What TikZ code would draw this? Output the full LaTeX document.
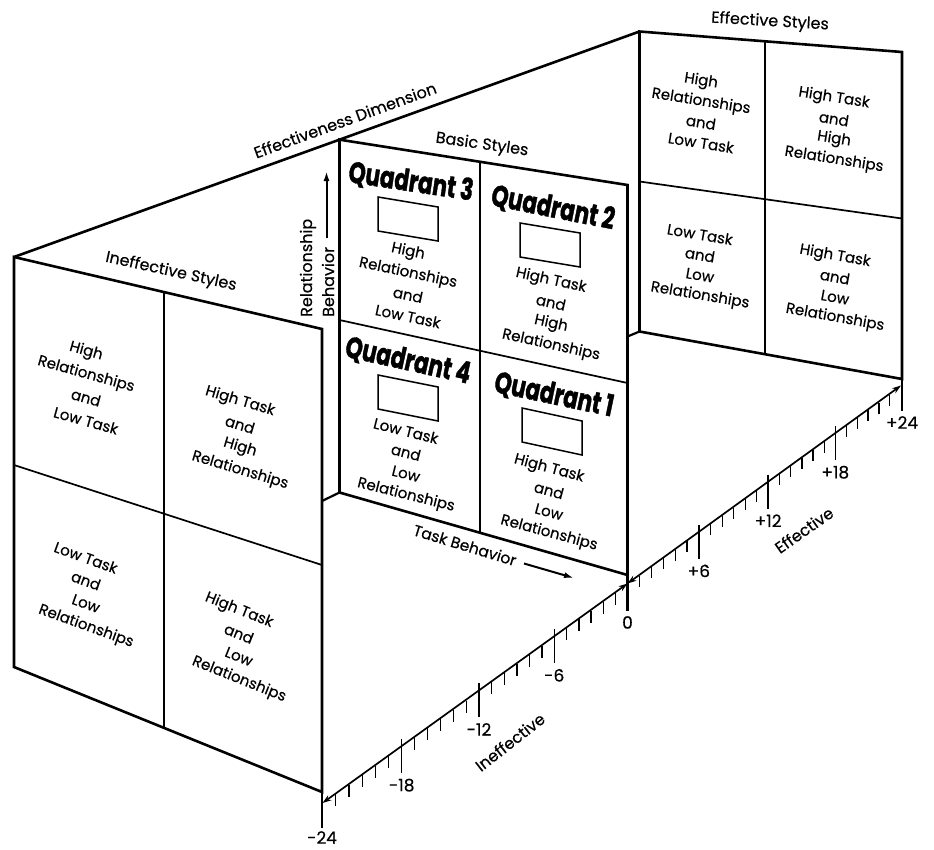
\documentclass[tikz,border=0pt]{standalone}
\usepackage{fontspec}
\setmainfont{Poppins}[FakeBold=0.4]
\newfontfamily\quadfont[FakeStretch=0.72,FakeBold=1.2]{Poppins}
\usetikzlibrary{arrows.meta,calc}

\begin{document}
\begin{tikzpicture}[
    x=1pt, y=-1pt,
    panelline/.style={line width=2.6pt, line join=miter},
    divider/.style={line width=1.7pt},
    floorline/.style={line width=2.2pt},
    scorebox/.style={line width=1.5pt, line join=miter},
    celltext/.style={inner sep=0pt, font=\fontsize{15}{22}\selectfont},
    heading/.style={inner sep=0pt, font=\fontsize{16}{18}\selectfont},
    quadlabel/.style={inner sep=0pt, font=\quadfont\bfseries\fontsize{30}{32}\selectfont},
    axisarrow/.style={{Stealth[length=9pt,width=6pt]}-{Stealth[length=9pt,width=6pt]}, line width=1.7pt},
    behaviorarrow/.style={-{Latex[length=10pt,width=6pt]}, line width=2pt},
    majortick/.style={line width=1.5pt},
    minortick/.style={line width=1.3pt},
    ticklabel/.style={inner sep=0pt, font=\fontsize{17}{19}\selectfont}
  ]
  \useasboundingbox (0,0) rectangle (934,849);

  \coordinate (fTL) at (14,257);
  \coordinate (fTR) at (322,329);
  \coordinate (fBR) at (322,792);
  \coordinate (fBL) at (14,667);
  \coordinate (fML) at (14,465);
  \coordinate (fMR) at (322,565);
  \coordinate (fdrop) at (322,828);
  \coordinate (fjoin) at (322,501);

  \coordinate (kTL) at (639.5,31.5);
  \coordinate (kTR) at (902,52);
  \coordinate (kBR) at (902,379);
  \coordinate (kBL) at (639.5,331.5);
  \coordinate (kML) at (639.5,181.5);
  \coordinate (kMR) at (902,218.5);
  \coordinate (kdrop) at (902,411);

  \coordinate (bTL) at ($(fTL)!0.5204!(kTL)$);
  \coordinate (bTR) at (627.5,185);
  \coordinate (bBR) at (627.5,575);
  \coordinate (bBL) at (339.5,492.5);
  \coordinate (bML) at (339.5,320);
  \coordinate (bMR) at (627.5,383);
  \coordinate (bdrop) at (627.5,611);
  \coordinate (bjoin) at (627.5,336.5);

  \coordinate (zero) at (627.5,583.5);
  \coordinate (effend) at (901,385.5);
  \coordinate (ineffend) at (322.5,803);

  \draw[panelline] (fTL) -- (kTL);

  \draw[panelline] (fTL) -- (fTR) -- (fBR) -- (fBL) -- cycle;
  \draw[panelline] (fBR) -- (fdrop);
  \draw[divider] (fML) -- (fMR);
  \draw[divider] ($(fTL)!0.487!(fTR)$) -- ($(fBL)!0.487!(fBR)$);

  \draw[panelline] (bTL) -- (bTR) -- (bBR) -- (bBL) -- cycle;
  \draw[panelline] (bBR) -- (bdrop);
  \draw[divider] (bML) -- (bMR);
  \draw[divider] ($(bTL)!0.488!(bTR)$) -- ($(bBL)!0.488!(bBR)$);

  \draw[panelline] (kTL) -- (kTR) -- (kBR) -- (kBL) -- cycle;
  \draw[panelline] (kBR) -- (kdrop);
  \draw[divider] (kML) -- (kMR);
  \draw[divider] ($(kTL)!0.478!(kTR)$) -- ($(kBL)!0.478!(kBR)$);

  \draw[floorline] (fjoin) -- (bBL);
  \draw[floorline] (kBL) -- (bjoin);

  \foreach \corner/\rise in {{378,197}/10, {520,223}/10, {378,375}/12, {522,408}/13}
    \draw[scorebox] (\corner) -- ++(60,\rise) -- ++(0,34) -- ++(-60,-\rise) -- cycle;

  \draw[axisarrow] (ineffend) -- (zero);
  \draw[axisarrow] (zero) -- (effend);

  \foreach \t in {1,...,23} {
    \pgfmathsetmacro\fpos{0.044125*\t-0.00010245*\t*\t}
    \pgfmathsetmacro\fneg{0.039467*\t+0.00009163*\t*\t}
    \coordinate (e) at ($(zero)!\fpos!(effend)$);
    \coordinate (i) at ($(zero)!\fneg!(ineffend)$);
    \pgfmathtruncatemacro\major{mod(\t,6)==0}
    \ifnum\major=1
      \draw[majortick] (e) ++(0,-7) -- ++(0,34) node[ticklabel, below=5pt] {+\t};
      \draw[majortick] (i) ++(0,-7) -- ++(0,34) node[ticklabel, below=5pt] {-\t};
    \else
      \draw[minortick] (e) ++(0,1) -- ++(0,11);
      \draw[minortick] (i) ++(0,1) -- ++(0,12);
    \fi
  }

  \node[ticklabel, below=5pt] (lzero) at (bdrop) {0};
  \node[ticklabel, below=5pt] (lpos) at (kdrop) {+24};
  \node[ticklabel, below=3pt] (lneg) at (fdrop) {-24};

  \node[heading, rotate=35] (efflabel) at (804,530) {Effective};
  \node[heading, rotate=38] (inefflabel) at (510,742) {Ineffective};

  \node[heading, rotate=20] (effdim) at (345,120) {Effectiveness Dimension};
  \node[heading, rotate=-8] (basichead) at (482,145) {Basic Styles};
  \node[heading, rotate=-12.4] (ineffhead) at (171,272) {Ineffective Styles};
  \node[heading, rotate=-3.4] (effhead) at (770,22) {Effective Styles};

  \node[heading, rotate=90, anchor=west, align=left, font=\fontsize{16}{22}\selectfont]
    (relbeh) at (317,317) {Relationship\\Behavior};
  \coordinate (relfoot) at (326.5,238);
  \coordinate (reltip) at (326.5,171);
  \draw[behaviorarrow] (relfoot) -- (reltip);

  \node[heading, rotate=-17, font=\fontsize{15.5}{18}\selectfont] (taskbeh) at (465,545) {Task Behavior};
  \coordinate (taskfoot) at (524,563.5);
  \coordinate (tasktip) at (574,578);
  \draw[behaviorarrow] (taskfoot) -- (tasktip);

  \node[quadlabel, rotate=-8.5] (quad3) at (411,182) {Quadrant 3};
  \node[quadlabel, rotate=-11.3] (quad2) at (553,208) {Quadrant 2};
  \node[quadlabel, rotate=-12.4] (quad4) at (408,361) {Quadrant 4};
  \node[quadlabel, rotate=-11.9] (quad1) at (554,395) {Quadrant 1};

  \foreach \name/\pos/\ang/\step/\lines in {
      q3text/{408,284}/-11.9/21.5/{High,Relationships,and,Low Task},
      q2text/{551,313}/-12.4/21.5/{High Task,and,High,Relationships},
      q4text/{406,463}/-14/21.5/{Low Task,and,Low,Relationships},
      q1text/{549,501}/-15.1/21.5/{High Task,and,Low,Relationships},
      ktltext/{701,112}/-9.1/20.5/{High,Relationships,and,Low Task},
      ktrtext/{834,129}/-9.1/20.5/{High Task,and,High,Relationships},
      kbltext/{700,265}/-9.6/20.5/{Low Task,and,Low,Relationships},
      kbrtext/{835,287}/-10.2/20.5/{High Task,and,Low,Relationships},
      ftltext/{86,386}/-15.6/23/{High,Relationships,and,Low Task},
      ftrtext/{240,436}/-16.7/23/{High Task,and,High,Relationships},
      fbltext/{86,592}/-19.8/23/{Low Task,and,Low,Relationships},
      fbrtext/{239,645}/-21.8/23/{High Task,and,Low,Relationships}}
    \foreach \line [count=\k] in \lines
      \node[celltext, rotate=\ang] (\name-\k) at ($(\pos)+(0,{(\k-2.5)*\step})$) {\line};
\end{tikzpicture}
\end{document}
